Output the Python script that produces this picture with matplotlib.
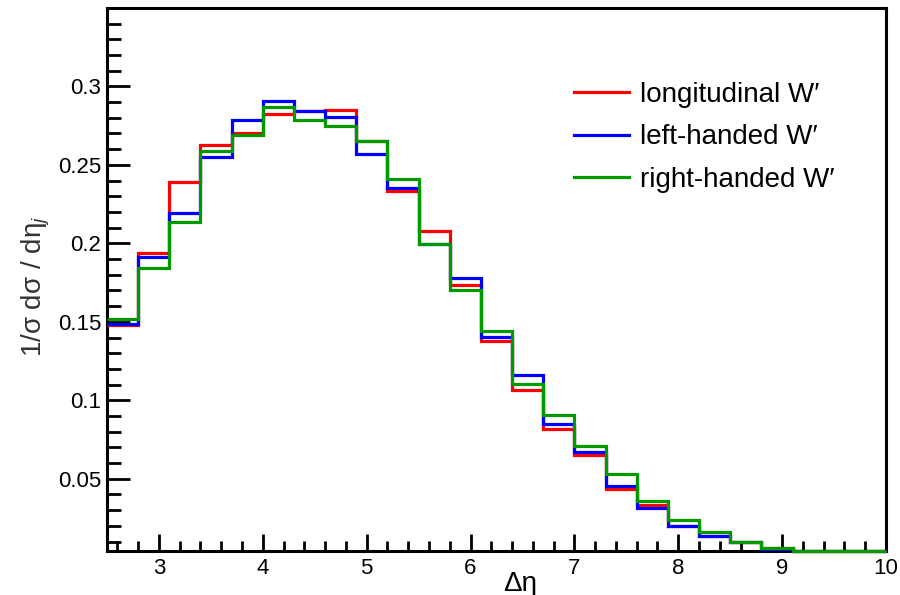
import numpy as np
import matplotlib
matplotlib.use("Agg")
import matplotlib.pyplot as plt
from matplotlib.ticker import MultipleLocator

plt.rcParams['font.family'] = ['Liberation Sans', 'DejaVu Sans']
plt.rcParams['mathtext.fontset'] = 'custom'
plt.rcParams['mathtext.rm'] = 'Liberation Sans'
plt.rcParams['mathtext.it'] = 'Liberation Sans:italic'

# Delta-eta binning: 25 bins of width 0.3 from 2.5 to 10
bin_edges = np.round(np.linspace(2.5, 10.0, 26), 2)

# Normalised distributions for the three W' polarisations
longitudinal = [0.1480, 0.1937, 0.2389, 0.2625, 0.2700, 0.2826, 0.2840, 0.2847,
                0.2650, 0.2332, 0.2076, 0.1737, 0.1380, 0.1068, 0.0815, 0.0653,
                0.0436, 0.0333, 0.0200, 0.0137, 0.0097, 0.0057, 0.0020, 0.0010,
                0.0005]
left_handed = [0.1484, 0.1916, 0.2190, 0.2549, 0.2785, 0.2904, 0.2843, 0.2804,
               0.2570, 0.2351, 0.1995, 0.1776, 0.1405, 0.1162, 0.0849, 0.0672,
               0.0453, 0.0314, 0.0199, 0.0137, 0.0095, 0.0055, 0.0020, 0.0010,
               0.0005]
right_handed = [0.1520, 0.1840, 0.2133, 0.2587, 0.2690, 0.2866, 0.2785, 0.2749,
                0.2651, 0.2410, 0.1995, 0.1701, 0.1441, 0.1107, 0.0904, 0.0709,
                0.0529, 0.0357, 0.0236, 0.0161, 0.0097, 0.0057, 0.0020, 0.0010,
                0.0005]

series_labels = ["longitudinal W\u2032", "left-handed W\u2032", "right-handed W\u2032"]
series_colors = ["#ff0000", "#0000ff", "#009900"]

x_range = (2.5, 10.0)
y_range = (0.004, 0.3499)

fig = plt.figure(figsize=(9.0, 5.95), dpi=100)
ax = fig.add_axes([107 / 900, 1 - 551 / 595, (886 - 107) / 900, (551 - 8) / 595])

for vals, lab, col in zip([longitudinal, left_handed, right_handed],
                          series_labels, series_colors):
    # bins below the frame minimum are drawn on the frame's lower edge
    shown = np.maximum(np.asarray(vals), y_range[0])
    ax.stairs(shown, bin_edges, baseline=None, color=col, lw=2.3,
              label=lab, zorder=3, clip_on=False)

ax.set_xlim(*x_range)
ax.set_ylim(*y_range)

ax.xaxis.set_major_locator(MultipleLocator(1))
ax.xaxis.set_minor_locator(MultipleLocator(0.2))
ax.yaxis.set_major_locator(MultipleLocator(0.05))
ax.yaxis.set_minor_locator(MultipleLocator(0.01))
ax.yaxis.set_major_formatter(plt.FuncFormatter(lambda v, p: f"{v:g}"))

for s in ax.spines.values():
    s.set_linewidth(2.2)
    s.set_zorder(2)

ax.tick_params(axis='both', which='both', direction='in', top=False, right=False,
               width=2.0, labelsize=16)
ax.tick_params(axis='y', which='major', length=16.5, pad=4)
ax.tick_params(axis='y', which='minor', length=10)
ax.tick_params(axis='x', which='major', length=12.2, pad=5)
ax.tick_params(axis='x', which='minor', length=7.2)

ax.set_xlabel("\u0394\u03b7", fontsize=20)
ax.xaxis.set_label_coords(0.53, -0.036)
ax.set_ylabel("1/\u03c3 d\u03c3 / d\u03b7$_{j}$", fontsize=20, color="#333333")
ax.yaxis.set_label_coords(-0.070, 0.488)

leg = ax.legend(loc='upper left', bbox_to_anchor=(0.585, 0.885), frameon=False,
                fontsize=20, handlelength=2.0, handletextpad=0.38,
                labelspacing=0.6, borderaxespad=0.0)
for h in leg.get_lines():
    h.set_linewidth(2.3)

fig.savefig("out.png", dpi=100)
